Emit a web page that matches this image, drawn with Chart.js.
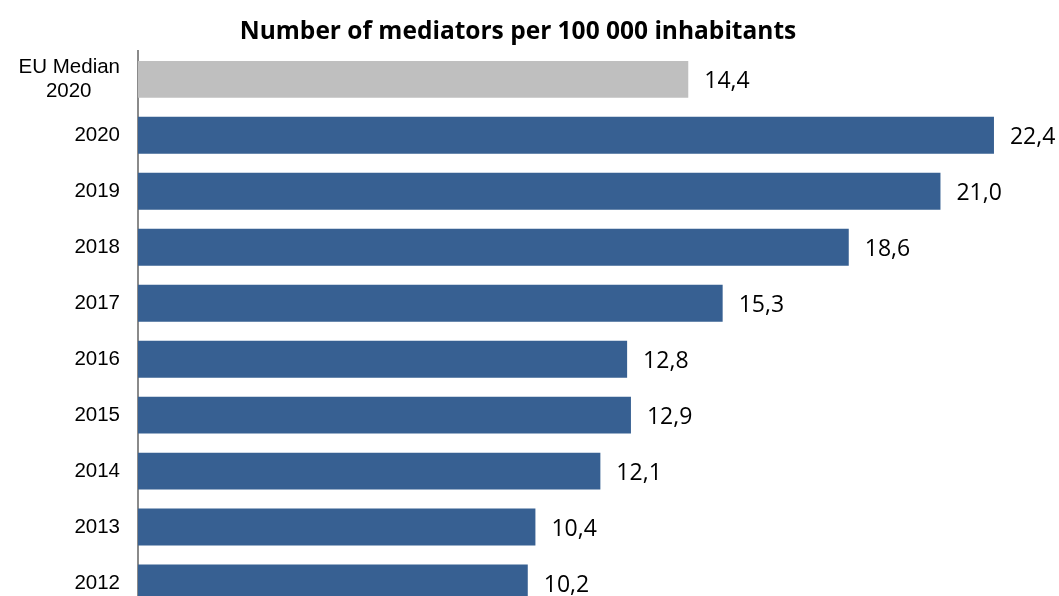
<!DOCTYPE html>
<html>
<head>
<meta charset="utf-8">
<script src="https://cdn.jsdelivr.net/npm/chart.js@4/dist/chart.umd.min.js"></script>
<style>
  html, body { margin: 0; padding: 0; overflow: hidden; background: #fff; height: 596px; }
  canvas { display: block; }
</style>
</head>
<body>
<canvas id="mediatorsChart" width="1059" height="611"></canvas>
<script>
const categories = [
  ["EU Median", "2020     "],
  "2020", "2019", "2018", "2017", "2016", "2015", "2014", "2013", "2012",
];
const mediatorValues = [14.4, 22.4, 21.0, 18.6, 15.3, 12.8, 12.9, 12.1, 10.4, 10.2];
const barColors = ["#bfbfbf", "#376092", "#376092", "#376092", "#376092", "#376092", "#376092", "#376092", "#376092", "#376092"];

// value labels to the right of each bar, with a decimal comma
const valueLabels = {
  id: "valueLabels",
  afterDatasetsDraw(chart) {
    const { ctx } = chart;
    const meta = chart.getDatasetMeta(0);
    ctx.save();
    ctx.font = "23px 'Open Sans', sans-serif";
    ctx.fillStyle = "#000";
    ctx.textAlign = "left";
    ctx.textBaseline = "middle";
    meta.data.forEach((bar, i) => {
      const text = mediatorValues[i].toFixed(1).replace(".", ",");
      ctx.fillText(text, bar.x + 16, bar.y + 2);
    });
    ctx.restore();
  },
};

new Chart(document.getElementById("mediatorsChart"), {
  type: "bar",
  data: {
    labels: categories,
    datasets: [
      {
        data: mediatorValues,
        backgroundColor: barColors,
        borderWidth: 0,
        barPercentage: 0.66,
        categoryPercentage: 1,
      },
    ],
  },
  options: {
    indexAxis: "y",
    responsive: false,
    animation: false,
    devicePixelRatio: 1,
    layout: { padding: { left: 0, right: 23, top: 0, bottom: 0 } },
    plugins: {
      legend: { display: false },
      tooltip: { enabled: false },
      title: {
        display: true,
        text: "Number of mediators per 100 000 inhabitants",
        color: "#000",
        font: { family: "'Open Sans', sans-serif", size: 24.5, weight: "bold" },
        padding: { top: 17, bottom: 5 },
      },
    },
    scales: {
      x: {
        display: false,
        min: 0,
        max: 23.5,
      },
      y: {
        afterFit: (scale) => {
          scale.width = 138;
          // let the last category run off the bottom edge like the original
          scale.paddingTop = 0;
          scale.paddingBottom = 0;
        },
        grid: { display: false, drawTicks: false },
        border: { display: true, color: "#8a8a8a", width: 2 },
        ticks: {
          color: "#000",
          padding: 18,
          font: { family: "'Liberation Sans', Arial, sans-serif", size: 20.5 },
        },
      },
    },
  },
  plugins: [valueLabels],
});
</script>
</body>
</html>
